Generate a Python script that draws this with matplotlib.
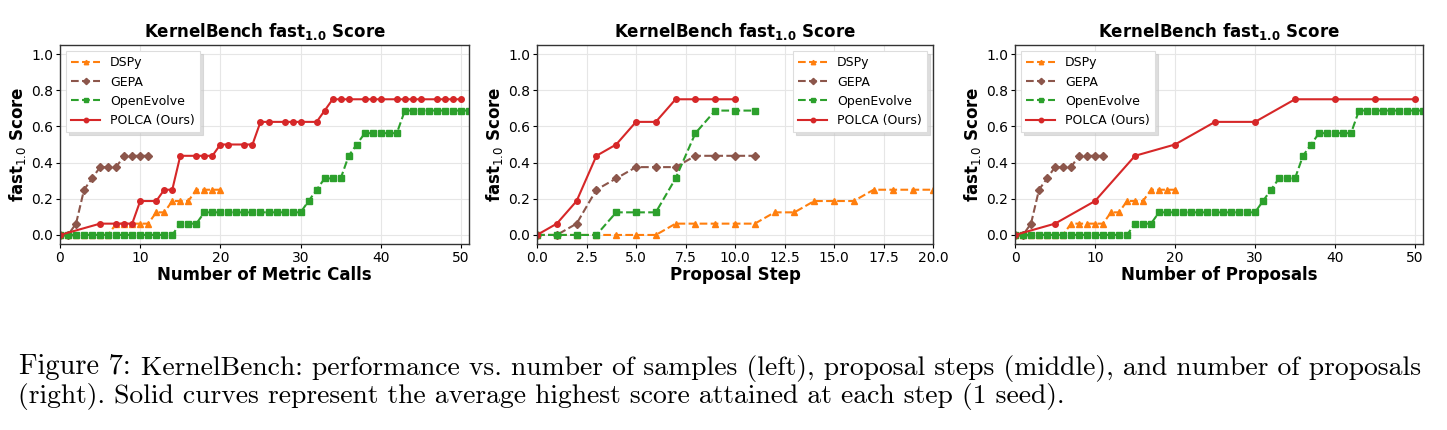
import numpy as np
import matplotlib
matplotlib.use('Agg')
import matplotlib.pyplot as plt

# ---------------------------------------------------------------- data
dspy_x = list(range(0, 21))
dspy_y = [0, 0, 0, 0, 0, 0, 0, 0.0625, 0.0625, 0.0625, 0.0625, 0.0625,
          0.125, 0.125, 0.1875, 0.1875, 0.1875, 0.25, 0.25, 0.25, 0.25]

gepa_x = list(range(0, 12))
gepa_y = [0, 0, 0.0625, 0.25, 0.3125, 0.375, 0.375, 0.375,
          0.4375, 0.4375, 0.4375, 0.4375]

oe_x = list(range(0, 52))
oe_y = ([0] * 15 + [0.0625] * 3 + [0.125] * 13 + [0.1875, 0.25]
        + [0.3125] * 3 + [0.4375, 0.5] + [0.5625] * 5 + [0.6875] * 9)

# OpenEvolve per proposal step
oe_step_x = list(range(0, 12))
oe_step_y = [0, 0, 0, 0, 0.125, 0.125, 0.125, 0.3125, 0.5625,
             0.6875, 0.6875, 0.6875]

# POLCA vs metric calls
polca_calls_x = [0, 5, 7, 8, 9, 10, 12, 13, 14, 15, 17, 18, 19, 20, 21, 23,
                 24, 25, 26, 28, 29, 30, 32, 33, 34, 35, 36, 38, 39, 40, 42,
                 43, 44, 45, 47, 48, 49, 50]
polca_calls_y = [0, 0.0625, 0.0625, 0.0625, 0.0625, 0.1875, 0.1875, 0.25,
                 0.25, 0.4375, 0.4375, 0.4375, 0.4375, 0.5, 0.5, 0.5, 0.5,
                 0.625, 0.625, 0.625, 0.625, 0.625, 0.625, 0.6875, 0.75,
                 0.75, 0.75, 0.75, 0.75, 0.75, 0.75, 0.75, 0.75, 0.75, 0.75,
                 0.75, 0.75, 0.75]

# POLCA per proposal step
polca_step_x = list(range(0, 11))
polca_step_y = [0, 0.0625, 0.1875, 0.4375, 0.5, 0.625, 0.625, 0.75,
                0.75, 0.75, 0.75]

# POLCA vs number of proposals
polca_prop_x = [0, 5, 10, 15, 20, 25, 30, 35, 40, 45, 50]
polca_prop_y = [0, 0.0625, 0.1875, 0.4375, 0.5, 0.625, 0.625, 0.75,
                0.75, 0.75, 0.75]

panels = [
    ('Number of Metric Calls', (dspy_x, dspy_y), (gepa_x, gepa_y),
     (oe_x, oe_y), (polca_calls_x, polca_calls_y), 'upper left', (0, 51)),
    ('Proposal Step', (dspy_x, dspy_y), (gepa_x, gepa_y),
     (oe_step_x, oe_step_y), (polca_step_x, polca_step_y), 'upper right', (0, 20)),
    ('Number of Proposals', (dspy_x, dspy_y), (gepa_x, gepa_y),
     (oe_x, oe_y), (polca_prop_x, polca_prop_y), 'upper left', (0, 51)),
]

# --------------------------------------------------------------- figure
fig = plt.figure(figsize=(14.47, 4.30), dpi=100)
rects = [[60 / 1447, 186 / 430, 409 / 1447, 199 / 430],
         [537 / 1447, 186 / 430, 396 / 1447, 199 / 430],
         [1015 / 1447, 186 / 430, 408 / 1447, 199 / 430]]

for rect, (xlab, ds, ge, oe, po, loc, xl) in zip(rects, panels):
    ax = fig.add_axes(rect)
    ax.plot(ds[0], ds[1], '--', marker='^', color='#ff7f0e', ms=4, lw=1.5, label='DSPy')
    ax.plot(ge[0], ge[1], '--', marker='D', color='#8c564b', ms=4, lw=1.5, label='GEPA')
    ax.plot(oe[0], oe[1], '--', marker='s', color='#2ca02c', ms=4, lw=1.5, label='OpenEvolve')
    ax.plot(po[0], po[1], '-', marker='o', color='#d62728', ms=4, lw=1.5, label='POLCA (Ours)')
    ax.set_xlim(*xl)
    ax.set_ylim(-0.05, 1.05)
    ax.set_yticks([0.0, 0.2, 0.4, 0.6, 0.8, 1.0])
    if xl[1] == 20:
        ax.set_xticks(np.arange(0, 20.1, 2.5))
    ax.grid(True, color='#e6e6e6', lw=0.8)
    ax.set_axisbelow(True)
    for s in ax.spines.values():
        s.set_color('#333333')
        s.set_linewidth(1.0)
    ax.tick_params(labelsize=10, length=3, pad=2)
    ax.set_title(r'KernelBench fast$_{\mathbf{1.0}}$ Score', fontsize=12,
                 fontweight='bold', pad=6)
    ax.set_xlabel(xlab, fontsize=12, fontweight='bold', labelpad=1)
    ax.set_ylabel(r'fast$_{1.0}$ Score', fontsize=12, fontweight='bold', labelpad=2)
    leg = ax.legend(loc=loc, fontsize=9, frameon=True, fancybox=False,
                    shadow={'color': '#c8c8c8', 'alpha': 0.6},
                    edgecolor='#dddddd', handlelength=2.3, markerscale=0.8)
    leg.get_frame().set_linewidth(0.8)

fig.text(19 / 1447, 1 - 367 / 430, 'Figure 7:', fontsize=20.5, family='cmr10',
         va='center', ha='left')
fig.text(141 / 1447, 1 - 368 / 430,
         'KernelBench: performance vs. number of samples (left), proposal steps (middle), and number of proposals',
         fontsize=19.85, family='cmr10', va='center', ha='left')
fig.text(18 / 1447, 1 - 397 / 430,
         '(right). Solid curves represent the average highest score attained at each step (1 seed).',
         fontsize=19.85, family='cmr10', va='center', ha='left')

fig.savefig('out.png', dpi=100)
